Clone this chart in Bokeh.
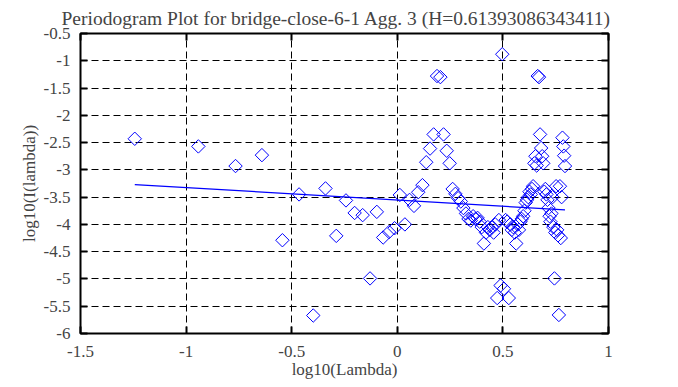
import numpy as np
from bokeh.plotting import figure
from bokeh.models import FixedTicker, LinearAxis, Range1d
from bokeh.embed import file_html
from bokeh.resources import INLINE

title_text = "Periodogram Plot for bridge-close-6-1 Agg. 3 (H=0.61393086343411)"
x_label = "log10(Lambda)"
y_label = "log10(I(lambda))"

H = 0.61393086343411
fit_intercept = -3.553

x_ticks = [-1.5, -1.0, -0.5, 0.0, 0.5, 1.0]
x_tick_labels = ["-1.5", "-1", "-0.5", "0", "0.5", "1"]
y_ticks = [-6.0, -5.5, -5.0, -4.5, -4.0, -3.5, -3.0, -2.5, -2.0, -1.5, -1.0, -0.5]
y_tick_labels = ["-6", "-5.5", "-5", "-4.5", "-4", "-3.5", "-3", "-2.5", "-2", "-1.5", "-1", "-0.5"]

log_lambda = [
    -1.243, -0.942, -0.766, -0.641, -0.544, -0.465, -0.398, -0.340, -0.289, -0.243,
    -0.202, -0.164, -0.129, -0.097, -0.067, -0.039, -0.013, 0.012, 0.036, 0.058,
    0.079, 0.099, 0.119, 0.137, 0.155, 0.172, 0.188, 0.204, 0.219, 0.234,
    0.248, 0.262, 0.275, 0.288, 0.301, 0.313, 0.325, 0.337, 0.348, 0.359,
    0.370, 0.380, 0.390, 0.400, 0.410, 0.420, 0.429, 0.438, 0.447, 0.456,
    0.464, 0.473, 0.481, 0.489, 0.497, 0.505, 0.513, 0.520, 0.528, 0.535,
    0.542, 0.549, 0.556, 0.563, 0.570, 0.576, 0.583, 0.589, 0.596, 0.602,
    0.608, 0.614, 0.620, 0.626, 0.632, 0.638, 0.643, 0.649, 0.654, 0.660,
    0.665, 0.671, 0.676, 0.681, 0.686, 0.691, 0.696, 0.701, 0.706, 0.711,
    0.716, 0.721, 0.725, 0.730, 0.735, 0.739, 0.744, 0.748, 0.752, 0.757,
    0.761, 0.765, 0.770, 0.774, 0.778, 0.782, 0.786, 0.790, 0.794,
]

log_I = [
    -2.43, -2.57, -2.93, -2.73, -4.29, -3.45, -5.67, -3.34, -4.21, -3.56,
    -3.79, -3.83, -4.99, -3.77, -4.24, -4.14, -4.07, -3.46, -4.00, -3.55,
    -3.66, -3.41, -3.28, -2.86, -2.61, -2.35, -1.28, -1.30, -2.35, -2.65,
    -2.88, -3.35, -3.44, -3.52, -3.58, -3.70, -3.80, -3.90, -3.93, -3.85,
    -3.90, -3.88, -3.95, -4.05, -4.35, -4.15, -4.05, -4.10, -4.05, -4.15,
    -4.00, -5.35, -3.92, -5.12, -0.88, -5.18, -3.92, -3.95, -5.35, -4.00,
    -4.10, -4.05, -4.15, -4.35, -4.00, -4.10, -3.95, -3.90, -3.85, -3.75,
    -3.60, -3.55, -3.50, -3.40, -3.45, -3.35, -3.30, -2.88, -2.75, -2.92,
    -1.28, -1.30, -2.35, -2.60, -2.75, -2.88, -3.40, -3.35, -3.45, -3.55,
    -3.70, -3.85, -3.95, -3.80, -3.50, -4.05, -4.99, -4.15, -3.30, -4.10,
    -4.20, -5.66, -3.30, -4.25, -3.50, -2.41, -2.57, -2.74, -2.93,
]

FONT = "Liberation Serif"
BLUE = "#0000ff"

p = figure(frame_width=528, frame_height=300, output_backend="svg", toolbar_location=None,
           x_range=Range1d(-1.5, 1.0), y_range=Range1d(-6.0, -0.5),
           min_border_left=80, min_border_right=54, min_border_top=29,
           min_border_bottom=44)
p.title.text = title_text
p.title.text_font = FONT
p.title.text_font_size = "19.5px"
p.title.text_font_style = "normal"
p.title.text_line_height = 0.6
p.title.align = "left"
p.title.offset = -19
p.title.standoff = 10

p.outline_line_color = "black"
p.outline_line_width = 2
p.background_fill_color = "white"
p.border_fill_color = "white"

for ax, ticks, labs, lab in ((p.xaxis[0], x_ticks, x_tick_labels, x_label),
                             (p.yaxis[0], y_ticks, y_tick_labels, y_label)):
    ax.ticker = FixedTicker(ticks=ticks)
    ax.major_label_overrides = {t: s for t, s in zip(ticks, labs)}
    ax.axis_label = lab
    ax.axis_label_text_font = FONT
    ax.axis_label_text_font_size = "17px"
    ax.axis_label_text_font_style = "normal"
    ax.major_label_text_font = FONT
    ax.major_label_text_font_size = "17px"
    ax.major_tick_in = 7
    ax.major_tick_out = 0
    ax.major_tick_line_width = 2
    ax.minor_tick_line_color = None
    ax.axis_line_color = None
p.xaxis[0].major_label_standoff = 12
p.xaxis[0].axis_label_standoff = 0
p.yaxis[0].major_label_standoff = 10
p.yaxis[0].axis_label_standoff = 2

for loc, ticks in (("right", y_ticks), ("above", x_ticks)):
    ax = LinearAxis(ticker=FixedTicker(ticks=ticks))
    ax.major_label_text_font_size = "0px"
    ax.major_label_standoff = 0
    ax.major_tick_in = 7
    ax.major_tick_out = 0
    ax.major_tick_line_width = 2
    ax.minor_tick_line_color = None
    ax.axis_line_color = None
    p.add_layout(ax, loc)

for g in (p.xgrid[0], p.ygrid[0]):
    g.grid_line_color = "black"
    g.grid_line_dash = "7 4"
    g.grid_line_width = 1
p.xgrid[0].ticker = FixedTicker(ticks=x_ticks)
p.ygrid[0].ticker = FixedTicker(ticks=y_ticks)

p.scatter(log_lambda, log_I, marker="square", angle=np.pi / 4, size=9.5,
          fill_color=None, line_color=BLUE, line_width=1)

slope = 1 - 2 * H
fx = [min(log_lambda), max(log_lambda)]
fy = [fit_intercept + slope * v for v in fx]
p.line(fx, fy, line_color=BLUE, line_width=1.3)

open("out.html", "w").write(file_html(p, INLINE))
